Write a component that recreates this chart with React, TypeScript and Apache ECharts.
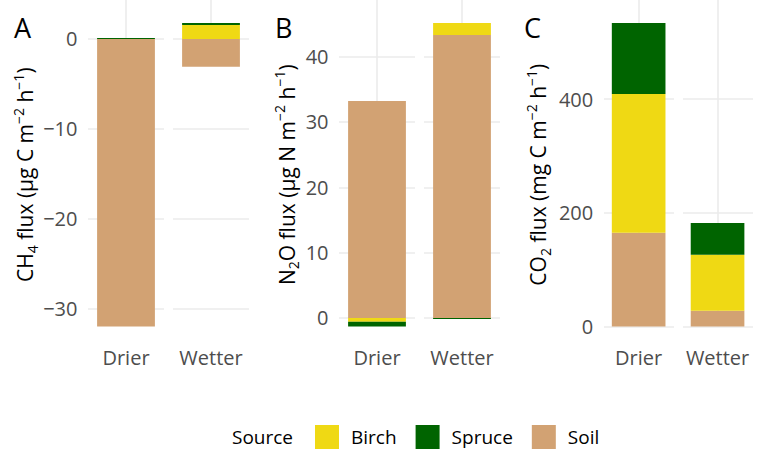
import React, { useEffect, useRef } from 'react';
import * as echarts from 'echarts';

const categories = ['Drier', 'Wetter'];
const sources = ['Soil', 'Birch', 'Spruce'];
const legendOrder = ['Birch', 'Spruce', 'Soil'];
const panelLetters = ['A', 'B', 'C'];

// CH4 flux (µg C m-2 h-1)
const ch4Soil = [-32.0, -3.1];
const ch4Birch = [0, 1.56];
const ch4Spruce = [0.1, 0.22];

// N2O flux (µg N m-2 h-1)
const n2oSoil = [33.2, 43.3];
const n2oBirch = [-0.6, 1.85];
const n2oSpruce = [-0.7, -0.15];

// CO2 flux (mg C m-2 h-1)
const co2Soil = [165, 27.5];
const co2Birch = [244, 98.5];
const co2Spruce = [125, 56];

const tickIntervals = [10, 10, 200];

const FONT = 'Open Sans';
const COLORS: Record<string, string> = { Soil: '#D2A273', Birch: '#EFD914', Spruce: '#006400' };

const panels = [
  { data: [ch4Soil, ch4Birch, ch4Spruce], name: '{n|CH}{sub|4}{n| flux (µg C m}{sup|−2}{n| h}{sup|−1}{n|)}', left: 83.5, gap: 41 },
  { data: [n2oSoil, n2oBirch, n2oSpruce], name: '{n|N}{sub|2}{n|O flux (µg N m}{sup|−2}{n| h}{sup|−1}{n|)}', left: 334.5, gap: 34 },
  { data: [co2Soil, co2Birch, co2Spruce], name: '{n|CO}{sub|2}{n| flux (mg C m}{sup|−2}{n| h}{sup|−1}{n|)}', left: 599.2, gap: 47 },
];

const TOP = 7.8;
const HEIGHT = 333.8;
const BAND = 170;
const GRID_COLOR = '#EBEBEB';

function paddedExtent(arrs: number[][]): [number, number] {
  let lo = 0;
  let hi = 0;
  for (let c = 0; c < categories.length; c++) {
    let pos = 0;
    let neg = 0;
    arrs.forEach((a) => {
      if (a[c] >= 0) pos += a[c];
      else neg += a[c];
    });
    hi = Math.max(hi, pos);
    lo = Math.min(lo, neg);
  }
  const pad = (hi - lo) * 0.05;
  return [lo - pad, hi + pad];
}

export default function App() {
  const ref = useRef<HTMLDivElement>(null);
  useEffect(() => {
    if (!ref.current) return;
    const chart = echarts.init(ref.current, undefined, { renderer: 'svg' });
    const rich = {
      n: { fontFamily: FONT, fontSize: 21, lineHeight: 28, color: '#000', verticalAlign: 'middle' },
      sub: { fontFamily: FONT, fontSize: 14, lineHeight: 14, color: '#000', verticalAlign: 'bottom' },
      sup: { fontFamily: FONT, fontSize: 14, lineHeight: 14, color: '#000', verticalAlign: 'top' },
    };
    const grid: any[] = [];
    const xAxis: any[] = [];
    const yAxis: any[] = [];
    const series: any[] = [];
    panels.forEach((p, i) => {
      const [mn, mx] = paddedExtent(p.data);
      grid.push({ left: p.left, top: TOP, width: BAND, height: HEIGHT, containLabel: false });
      xAxis.push({
        type: 'category',
        gridIndex: i,
        data: categories,
        boundaryGap: true,
        z: 1,
        axisLine: { show: false },
        axisTick: { show: true, alignWithLabel: true, inside: true, length: HEIGHT, lineStyle: { color: GRID_COLOR, width: 1.6 } },
        axisLabel: { color: '#4D4D4D', fontFamily: FONT, fontSize: 20, margin: 6, interval: 0, hideOverlap: false },
        splitLine: { show: true, lineStyle: { color: '#FFFFFF', width: 9 } },
      });
      yAxis.push({
        type: 'value',
        gridIndex: i,
        min: mn,
        max: mx,
        minInterval: tickIntervals[i],
        maxInterval: tickIntervals[i],
        z: 0,
        axisLine: { show: false },
        axisTick: { show: false },
        axisLabel: {
          color: '#4D4D4D',
          fontFamily: FONT,
          fontSize: 20,
          margin: 6,
          showMinLabel: false,
          showMaxLabel: false,
          formatter: (v: number) => String(v).replace('-', '−'),
        },
        splitLine: { show: true, showMinLine: false, showMaxLine: false, lineStyle: { color: GRID_COLOR, width: 1.6 } },
        name: p.name,
        nameLocation: 'middle',
        nameGap: p.gap,
        nameRotate: 90,
        nameTextStyle: { rich },
      });
      sources.forEach((s, k) => {
        series.push({
          type: 'bar',
          name: s,
          xAxisIndex: i,
          yAxisIndex: i,
          stack: 'total' + i,
          barWidth: '68%',
          z: 2,
          itemStyle: { color: COLORS[s] },
          data: p.data[k],
        });
      });
    });
    chart.setOption({
      animation: false,
      backgroundColor: '#FFFFFF',
      textStyle: { fontFamily: FONT },
      grid,
      xAxis,
      yAxis,
      series,
      legend: {
        data: legendOrder,
        left: 315,
        top: 425,
        padding: 0,
        orient: 'horizontal',
        itemWidth: 24,
        itemHeight: 24,
        itemGap: 19,
        icon: 'rect',
        selectedMode: false,
        formatter: (name: string) => `{g|}{t|${name}}`,
        textStyle: {
          fontFamily: FONT,
          fontSize: 19,
          color: '#000',
          rich: {
            g: { width: 7, fontSize: 19 },
            t: { fontFamily: FONT, fontSize: 19, color: '#000' },
          },
        },
      },
      graphic: [
        { type: 'text', left: 232, top: 427, style: { text: 'Source', fontFamily: FONT, fontSize: 19, fill: '#000' } },
        ...panelLetters.map((t, i) => ({
          type: 'text',
          left: [14, 275, 524][i],
          top: 14,
          style: { text: t, fontFamily: FONT, fontSize: 27, fill: '#000' },
        })),
      ],
    });
    return () => chart.dispose();
  }, []);
  return <div ref={ref} style={{ position: 'fixed', left: 0, top: 0, width: 757, height: 450 }} />;
}
